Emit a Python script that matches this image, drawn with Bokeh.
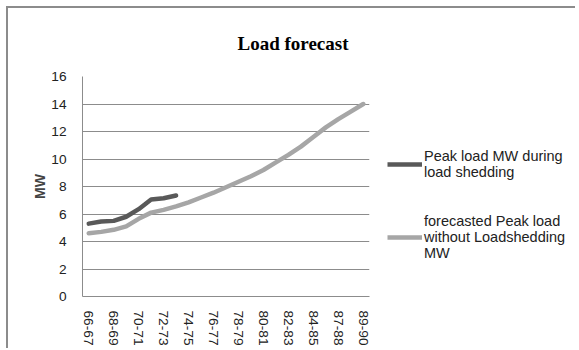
from bokeh.plotting import figure
from bokeh.layouts import row
from bokeh.models import Range1d, FixedTicker, Legend, LegendItem
from bokeh.embed import file_html
from bokeh.resources import INLINE

categories = ["66-67", "67-68", "68-69", "69-70", "70-71", "71-72", "72-73", "73-74",
              "74-75", "75-76", "76-77", "77-78", "78-79", "79-80", "80-81", "81-82",
              "82-83", "83-84", "84-85", "85-86", "87-88", "88-89", "89-90"]
peak_shedding = [5.3, 5.45, 5.5, 5.8, 6.35, 7.05, 7.15, 7.35]
forecast = [4.6, 4.7, 4.85, 5.1, 5.65, 6.1, 6.3, 6.55, 6.85, 7.2, 7.55, 7.95,
            8.35, 8.75, 9.2, 9.75, 10.3, 10.9, 11.6, 12.3, 12.9, 13.45, 14.0]
y_ticks = [0, 2, 4, 6, 8, 10, 12, 14, 16]
series_names = ["Peak load MW during\nload shedding",
                "forecasted Peak load\nwithout Loadshedding\nMW"]
series_colors = ["#595959", "#a6a6a6"]
series_values = [peak_shedding, forecast]

FONT = "Liberation Sans"
cat_pos = list(range(len(categories)))

p = figure(width=362, height=340, x_range=Range1d(-0.5, len(categories) - 0.5),
           y_range=Range1d(0, 16), output_backend="svg", toolbar_location=None,
           min_border_left=74, min_border_right=1, min_border_top=68,
           min_border_bottom=51, title="Load forecast")

p.title.align = "left"
p.title.offset = 155
p.title.text_font = "Liberation Serif"
p.title.text_font_style = "bold"
p.title.text_font_size = "19px"
p.title.text_color = "#000000"
p.title.standoff = 45

p.outline_line_color = None

# y axis
p.yaxis.ticker = FixedTicker(ticks=y_ticks)
p.yaxis.axis_label = "MW"
p.yaxis.axis_label_text_font = FONT
p.yaxis.axis_label_text_font_style = "bold"
p.yaxis.axis_label_text_font_size = "14px"
p.yaxis.axis_label_standoff = 0
p.yaxis.major_label_text_font = FONT
p.yaxis.major_label_text_font_size = "13.7px"
p.yaxis.major_label_text_color = "#222222"
p.yaxis.major_tick_line_color = None
p.yaxis.minor_tick_line_color = None
p.yaxis.major_label_standoff = 10
p.yaxis.axis_line_color = "#8c8c8c"

# x axis: categories, every other label shown
p.xaxis.ticker = FixedTicker(ticks=cat_pos[::2])
p.xaxis.major_label_overrides = {i: categories[i] for i in cat_pos}
p.xaxis.major_label_orientation = "vertical"
p.xaxis.major_label_text_font = FONT
p.xaxis.major_label_text_font_size = "13.7px"
p.xaxis.major_label_text_color = "#222222"
p.xaxis.major_tick_line_color = None
p.xaxis.minor_tick_line_color = None
p.xaxis.major_label_standoff = 8
p.xaxis.axis_line_color = "#8c8c8c"

p.xgrid.grid_line_color = None
p.ygrid.ticker = FixedTicker(ticks=y_ticks)
p.ygrid.grid_line_color = "#8c8c8c"
p.ygrid.grid_line_width = 1

for vals, col in zip(series_values, series_colors):
    p.line(cat_pos[:len(vals)], vals, line_color=col,
           line_width=4.5, line_cap="round", line_join="round")

# legend panel on the right (its lines lie outside its visible range)
q = figure(width=205, height=340, x_range=Range1d(0, 1), y_range=Range1d(100, 101),
           output_backend="svg", toolbar_location=None, min_border=0)
q.axis.visible = False
q.grid.visible = False
q.outline_line_color = None
lr = [q.line(cat_pos[:len(v)], v, line_color=c, line_width=4.5)
      for v, c in zip(series_values, series_colors)]

legend = Legend(items=[LegendItem(label=n, renderers=[r]) for n, r in zip(series_names, lr)],
                location=(17, 35))
legend.border_line_color = None
legend.background_fill_alpha = 0
legend.padding = 0
legend.margin = 0
legend.spacing = 33
legend.glyph_width = 35
legend.glyph_height = 20
legend.label_standoff = 2
legend.label_text_font = FONT
legend.label_text_font_size = "14.5px"
legend.label_text_line_height = 1.7
legend.label_text_color = "#222222"
q.add_layout(legend, "center")

layout = row(p, q)
layout.styles = {"border-left": "2px solid #8c8c8c", "border-top": "2px solid #8c8c8c",
                 "margin-left": "6px", "margin-top": "6px"}

open("out.html", "w").write(file_html(layout, INLINE))
